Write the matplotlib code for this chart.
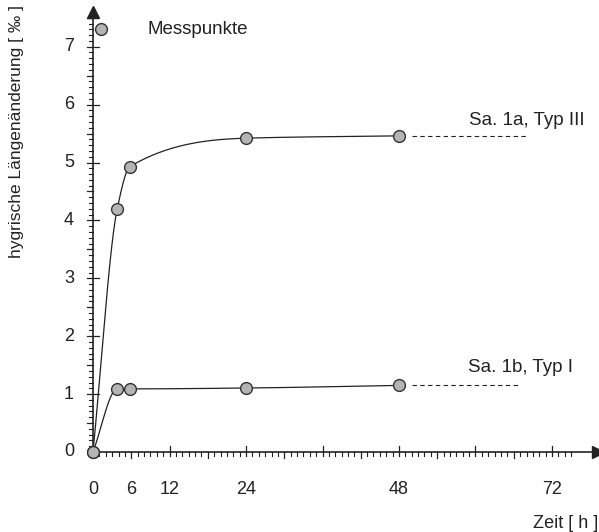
import numpy as np
import matplotlib
matplotlib.use("Agg")
import matplotlib.pyplot as plt

plt.rcParams['font.family'] = ['Liberation Sans', 'DejaVu Sans']

# Data
t_a = [0, 3.8, 5.8, 24, 48]
y_a = [0, 4.20, 4.93, 5.42, 5.46]
t_b = [0, 3.8, 5.8, 24, 48]
y_b = [0, 1.09, 1.09, 1.105, 1.15]
label_a = "Sa. 1a, Typ III"
label_b = "Sa. 1b, Typ I"
xticks = [0, 6, 12, 24, 48, 72]
yticks = [0, 1, 2, 3, 4, 5, 6, 7]
ext_a = [50, 68]
ext_b = [50, 67]

def pchip(x, y, xs):
    x = np.asarray(x, float); y = np.asarray(y, float)
    h = np.diff(x); d = np.diff(y) / h
    n = len(x); m = np.zeros(n)
    for k in range(1, n - 1):
        if d[k-1] * d[k] <= 0:
            m[k] = 0
        else:
            w1 = 2*h[k] + h[k-1]; w2 = h[k] + 2*h[k-1]
            m[k] = (w1 + w2) / (w1/d[k-1] + w2/d[k])
    m[0] = d[0]; m[-1] = d[-1]
    out = np.empty_like(xs)
    for i, xv in enumerate(xs):
        k = min(np.searchsorted(x, xv, side='right') - 1, n - 2)
        k = max(k, 0)
        t = (xv - x[k]) / h[k]
        h00 = 2*t**3 - 3*t**2 + 1; h10 = t**3 - 2*t**2 + t
        h01 = -2*t**3 + 3*t**2; h11 = t**3 - t**2
        out[i] = h00*y[k] + h10*h[k]*m[k] + h01*y[k+1] + h11*h[k]*m[k+1]
    return out

fig = plt.figure(figsize=(5.99, 5.32), dpi=100)
W, H = 599, 532
x0px, y0px = 93, 452
pxh = 6.375
pyu = 57.9
xmax = (598 - x0px) / pxh
ymax = (y0px - 12) / pyu
ax = fig.add_axes([x0px / W, (H - y0px) / H, xmax * pxh / W, ymax * pyu / H])
ax.set_xlim(0, xmax)
ax.set_ylim(0, ymax)

lc = '#222222'
ts = np.linspace(0, 48, 600)
ax.plot(ts, pchip(t_a, y_a, ts), color=lc, lw=0.9, clip_on=False)
ax.plot(ts, pchip(t_b, y_b, ts), color=lc, lw=0.9, clip_on=False)
ax.plot(ext_a, [y_a[-1]] * 2, color=lc, lw=0.8, ls=(0, (4, 3)))
ax.plot(ext_b, [y_b[-1]] * 2, color=lc, lw=0.8, ls=(0, (4, 3)))

mk = dict(marker='o', ms=8.5, mfc='#b4b4b4', mec='#333333', mew=1.0, ls='none', clip_on=False, zorder=5)
ax.plot(t_a, y_a, **mk)
ax.plot(t_b, y_b, **mk)

# legend
ax.plot([1.3], [7.3], **mk)
ax.text(8.6, 7.3, "Messpunkte", fontsize=13.5, color=lc, va='center', ha='left')

ax.text(59.0, 5.73, label_a, fontsize=13.5, color=lc, va='center', ha='left')
ax.text(58.8, 1.46, label_b, fontsize=13.5, color=lc, va='center', ha='left')

# spines / axes
for s in ['top', 'right']:
    ax.spines[s].set_visible(False)
for s in ['left', 'bottom']:
    ax.spines[s].set_color(lc)
    ax.spines[s].set_linewidth(1.2)
ax.plot(1, 0, '>', color=lc, ms=9, transform=ax.get_yaxis_transform(), clip_on=False)
ax.plot(0, 1, '^', color=lc, ms=9, transform=ax.get_xaxis_transform(), clip_on=False)

ax.set_xticks([])
ax.set_yticks([])
# custom ticks
for h_ in range(1, 76):
    if h_ % 12 == 0:
        ax.plot([h_, h_], [-4 / pyu, 6 / pyu], color=lc, lw=0.9, clip_on=False)
    elif h_ % 6 == 0:
        ax.plot([h_, h_], [-6 / pyu, 0], color=lc, lw=0.9, clip_on=False)
    else:
        ax.plot([h_, h_], [-4 / pyu, 0], color=lc, lw=0.8, clip_on=False)
for i in range(1, 76):
    v = i / 10
    if i % 10 == 0:
        ax.plot([-6 / pxh, 6 / pxh], [v, v], color=lc, lw=0.9, clip_on=False)
    elif i % 5 == 0:
        ax.plot([-6 / pxh, 0], [v, v], color=lc, lw=0.9, clip_on=False)
    else:
        ax.plot([-4 / pxh, 0], [v, v], color=lc, lw=0.8, clip_on=False)

for xt in xticks:
    ax.text(xt, -38 / pyu, str(xt), fontsize=13, color=lc, ha='center', va='center')
for yt in yticks:
    ax.text(-24 / pxh, yt, str(yt), fontsize=13, color=lc, ha='center', va='center')

ax.text(xmax, -71 / pyu, "Zeit [ h ]", fontsize=13, color=lc, ha='right', va='center')
fig.text(17 / W, (H - 5) / H, "hygrische Längenänderung [ ‰ ]", fontsize=12.5, color=lc,
         rotation=90, ha='center', va='top')

fig.savefig("out.png", dpi=100)
